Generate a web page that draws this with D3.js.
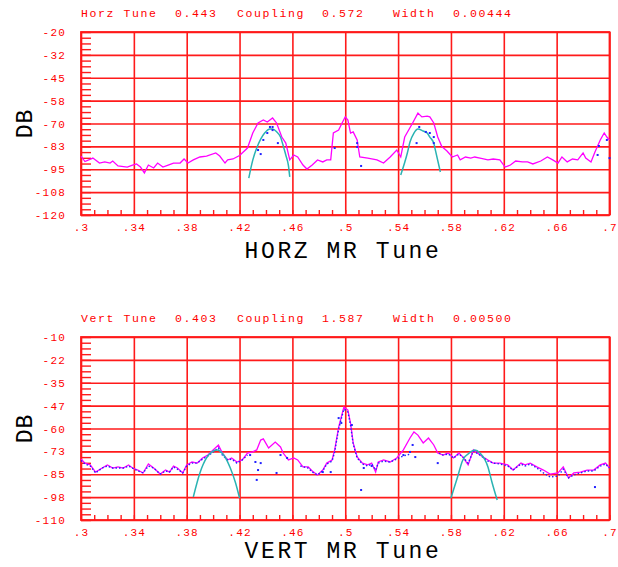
<!DOCTYPE html>
<html>
<head>
<meta charset="utf-8">
<script src="https://cdn.jsdelivr.net/npm/d3@7"></script>
<style>
  body { margin: 0; background: #fff; }
  svg { display: block; }
  .tick text { font-family: "Liberation Mono", monospace; font-size: 11px; letter-spacing: 1.2px; fill: #ff0000; }
</style>
</head>
<body>
<svg id="chart" width="618" height="567"></svg>
<script>
// ---- data ----
var xTicks = [.3, .34, .38, .42, .46, .5, .54, .58, .62, .66, .7];
var xTickLabels = [".3", ".34", ".38", ".42", ".46", ".5", ".54", ".58", ".62", ".66", ".7"];

var horzYTicks = [-20, -32.5, -45, -57.5, -70, -82.5, -95, -107.5, -120];
var horzYLabels = ["-20", "-32", "-45", "-58", "-70", "-83", "-95", "-108", "-120"];
var vertYTicks = [-10, -22.5, -35, -47.5, -60, -72.5, -85, -97.5, -110];
var vertYLabels = ["-10", "-22", "-35", "-47", "-60", "-73", "-85", "-98", "-110"];

var horzHeader = ["Horz Tune", "0.443", "Coupling", "0.572", "Width", "0.00444"];
var vertHeader = ["Vert Tune", "0.403", "Coupling", "1.587", "Width", "0.00500"];

// horizontal scan (magenta trace)
var horzTrace = [
  [.300,-87.8],[.303,-90.8],[.309,-88.9],[.314,-91.6],[.318,-91.0],[.322,-91.6],[.324,-90.5],[.328,-93.2],
  [.335,-93.8],[.339,-92.7],[.342,-92.1],[.345,-93.8],[.348,-97.0],[.351,-92.7],[.355,-94.3],[.358,-91.6],
  [.362,-93.8],[.366,-92.7],[.370,-91.6],[.375,-91.6],[.378,-89.4],[.381,-91.6],[.385,-89.9],[.390,-88.3],
  [.395,-87.8],[.402,-86.1],[.405,-87.8],[.409,-91.6],[.411,-89.9],[.415,-89.4],[.420,-87.5],[.426,-83.4],
  [.430,-75.2],[.434,-69.7],[.438,-68.1],[.441,-69.2],[.445,-67.0],[.448,-69.7],[.452,-77.4],[.455,-80.7],
  [.458,-89.9],[.461,-87.2],[.464,-88.3],[.468,-92.7],[.471,-94.9],[.475,-92.7],[.479,-89.9],[.483,-91.0],
  [.486,-89.9],[.489,-89.9],[.491,-75.2],[.495,-73.6],[.498,-69.2],[.500,-66.4],[.502,-68.1],[.504,-75.2],
  [.506,-74.6],[.509,-79.0],[.511,-88.3],[.517,-88.9],[.524,-89.9],[.529,-91.6],[.534,-88.3],[.539,-84.5],
  [.542,-88.3],[.545,-77.4],[.551,-69.7],[.555,-64.3],[.558,-66.4],[.562,-66.0],[.564,-66.4],[.567,-69.7],
  [.570,-77.4],[.573,-82.5],[.577,-85.0],[.581,-88.3],[.585,-87.2],[.587,-89.9],[.591,-88.3],[.595,-88.9],
  [.598,-88.3],[.602,-88.9],[.608,-89.9],[.612,-89.4],[.617,-89.9],[.621,-93.8],[.625,-92.7],[.629,-90.5],
  [.634,-91.0],[.638,-91.0],[.642,-92.1],[.648,-90.5],[.653,-88.3],[.657,-89.9],[.661,-91.6],[.664,-88.3],
  [.668,-91.0],[.672,-89.4],[.676,-89.9],[.680,-86.1],[.682,-88.9],[.686,-91.0],[.689,-85.6],[.693,-79.0],
  [.696,-75.2],[.698,-77.4],[.700,-79.0]
];
// fitted resonance curves (cyan)
var horzFitLow = [[.427,-99.8],[.430,-90.0],[.433,-83.4],[.436,-78.5],[.439,-75.2],[.443,-73.0],[.445,-73.0],
  [.448,-74.5],[.451,-77.4],[.453,-82.0],[.455,-87.2],[.457,-93.0],[.458,-99.2]];
var horzFitHigh = [[.542,-98.1],[.547,-86.1],[.549,-80.1],[.552,-75.2],[.555,-73.0],[.559,-74.1],[.562,-75.2],
  [.564,-77.4],[.567,-80.7],[.568,-83.9],[.572,-96.5]];
// sampled points (blue)
var horzSamples = [[.434,-84.5],[.436,-86.7],[.438,-79.0],[.441,-75.2],[.443,-71.9],[.445,-71.9],[.445,-73.6],
  [.449,-80.7],[.492,-83.4],[.509,-80.7],[.509,-82.8],[.512,-93.2],[.554,-80.7],[.556,-71.9],[.561,-74.6],
  [.564,-75.2],[.567,-77.4],[.567,-80.7],[.692,-82.3],[.691,-87.2],[.698,-79.0],[.700,-88.9]];

// vertical scan
var vertTrace = [
  [.300,-76.7],[.303,-78.9],[.307,-79.9],[.311,-83.8],[.316,-81.6],[.320,-79.9],[.324,-81.6],[.328,-81.0],
  [.332,-81.6],[.336,-79.9],[.339,-81.6],[.343,-82.7],[.347,-84.3],[.351,-79.4],[.355,-81.6],[.360,-84.9],
  [.364,-82.7],[.367,-83.8],[.370,-80.5],[.373,-81.6],[.377,-84.3],[.380,-79.9],[.384,-78.3],[.388,-78.9],
  [.392,-76.1],[.396,-74.5],[.400,-71.7],[.404,-69.0],[.407,-73.4],[.411,-77.2],[.414,-76.1],[.418,-78.3],
  [.422,-77.2],[.426,-73.4],[.430,-72.8],[.433,-71.7],[.436,-66.3],[.438,-65.7],[.442,-70.7],[.447,-67.4],
  [.451,-70.1],[.453,-73.4],[.457,-77.2],[.461,-76.1],[.464,-77.2],[.468,-81.0],[.472,-81.0],[.475,-83.2],
  [.479,-85.4],[.483,-82.7],[.486,-78.9],[.490,-77.2],[.492,-71.7],[.495,-59.2],[.498,-51.0],[.499,-48.3],
  [.502,-49.9],[.504,-57.0],[.506,-67.9],[.509,-75.6],[.513,-78.9],[.517,-79.9],[.520,-78.9],[.523,-83.8],
  [.525,-78.3],[.529,-77.2],[.534,-78.3],[.539,-76.1],[.544,-71.7],[.549,-65.2],[.552,-61.9],[.555,-63.6],
  [.559,-67.9],[.563,-65.2],[.567,-69.0],[.570,-73.4],[.574,-74.5],[.578,-73.4],[.582,-76.1],[.586,-73.4],
  [.589,-75.6],[.593,-79.9],[.597,-71.7],[.602,-74.5],[.608,-77.2],[.612,-78.9],[.617,-78.9],[.623,-79.9],
  [.627,-82.7],[.633,-78.9],[.636,-79.9],[.640,-78.9],[.645,-81.0],[.650,-82.7],[.655,-84.9],[.661,-84.3],
  [.665,-81.0],[.669,-87.0],[.673,-84.3],[.678,-83.8],[.683,-82.7],[.688,-82.7],[.693,-79.9],[.697,-78.9],
  [.700,-81.6]
];
var vertFitLow = [[.385,-97.4],[.390,-84.3],[.395,-76.1],[.399,-72.8],[.403,-71.7],[.408,-74.5],[.413,-81.6],
  [.417,-89.8],[.420,-98.0]];
var vertFitHigh = [[.580,-98.0],[.585,-86.5],[.589,-77.2],[.595,-72.8],[.598,-71.7],[.602,-73.4],[.608,-81.0],
  [.611,-89.2],[.615,-99.1]];
// blue sampled trace (null = gap)
var vertSampleTrace = [
  [.300,-77.5],[.303,-79.4],[.307,-80.5],[.311,-84.3],[.316,-81.6],[.320,-80.5],[.324,-81.6],[.328,-81.6],
  [.332,-81.6],[.336,-80.5],[.339,-81.6],[.343,-83.2],[.347,-84.3],[.351,-80.5],[.355,-81.6],[.360,-84.9],
  [.364,-83.2],[.367,-83.8],[.370,-81.0],[.373,-82.2],[.377,-84.3],[.380,-80.5],[.384,-78.9],[.388,-78.9],
  [.392,-76.7],[.396,-75.0],[.400,-72.8],[.404,-70.7],[.407,-74.5],[.411,-77.2],[.414,-76.7],[.418,-78.9],
  [.422,-77.2],[.426,-74.5],[.428,null],
  [.466,-80.5],[.472,-81.6],[.475,-83.8],[.479,-85.4],[.483,-83.2],[.486,-79.4],[.490,-77.8],[.492,-72.8],
  [.495,-60.3],[.498,-52.0],[.499,-49.4],[.502,-51.0],[.504,-58.1],[.506,-68.5],[.509,-76.1],[.513,-79.4],
  [.517,-80.5],[.520,-79.4],[.523,-82.7],[.525,-78.9],[.529,-77.8],[.534,-78.3],[.539,-76.7],[.544,-75.0],
  [.549,-74.0],[.550,null],
  [.571,-73.4],[.574,-74.5],[.578,-73.9],[.582,-76.1],[.586,-73.9],[.589,-75.6],[.593,-78.9],[.597,-72.3],
  [.602,-74.5],[.608,-77.8],[.612,-78.9],[.617,-79.4],[.623,-80.5],[.627,-82.7],[.633,-79.4],[.636,-80.5],
  [.640,-79.4],[.645,-81.6],[.650,-84.3],[.655,-86.5],[.661,-86.0],[.665,-82.2],[.669,-87.0],[.673,-85.4],
  [.678,-84.3],[.683,-83.2],[.688,-83.2],[.693,-80.5],[.697,-79.4],[.700,-81.6]
];
var vertSamples = [[.428,-74.5],[.432,-78.3],[.436,-78.9],[.434,-82.7],[.433,-88.1],[.448,-84.3],[.451,-74.5],
  [.456,-76.1],[.483,-83.8],[.489,-83.8],[.495,-54.3],[.497,-57.0],[.505,-58.1],[.512,-93.6],[.514,-81.6],
  [.520,-80.5],[.544,-74.5],[.549,-72.8],[.551,-69.0],[.553,-75.6],[.570,-78.9],[.689,-92.0]];

// ---- drawing ----
var svg = d3.select('#chart');
var left = 81, right = 609.5, plotH = 183;
var red = "#ff1a1a";

function drawPanel(top, titleY, yTicks, yLabels, header, axisTitle, trace, fits, sampleTrace, samples) {
    var g = svg.append("g").attr("transform", "translate(0," + top + ")");
    var x = d3.scaleLinear().domain([.3, .7]).range([left, right]);
    var y = d3.scaleLinear().domain([yTicks[yTicks.length - 1], yTicks[0]]).range([plotH, 0]);
    var step = (yTicks[0] - yTicks[1]) / 4;

    // header line
    var headerX = [81, 175, 237, 322, 393, 453];
    g.selectAll("text.header")
        .data(header)
        .enter()
        .append("text")
        .attr("class", "header")
        .attr("x", function(d, i) { return headerX[i]; })
        .attr("y", -15)
        .attr("fill", "#ff0000")
        .style("font-family", "Liberation Mono, monospace")
        .style("font-size", "11.5px")
        .style("letter-spacing", "1.6px")
        .text(function(d) { return d; });

    // minor ticks
    var minorY = d3.range(0, 33).map(function(i) { return yTicks[yTicks.length - 1] + i * step; });
    g.append("g")
        .attr("transform", "translate(" + left + ",0)")
        .call(d3.axisLeft(y).tickValues(minorY).tickSize(-10).tickFormat(""))
        .call(function(a) { a.select(".domain").remove(); a.selectAll("line").attr("stroke", red).attr("stroke-width", 1.4); });
    var minorX = d3.range(0, 41).map(function(i) { return .3 + i * .01; });
    g.append("g")
        .attr("transform", "translate(0," + plotH + ")")
        .call(d3.axisBottom(x).tickValues(minorX).tickSize(-5).tickFormat(""))
        .call(function(a) { a.select(".domain").remove(); a.selectAll("line").attr("stroke", red).attr("stroke-width", 1.4); });

    // grid with labels
    g.append("g")
        .attr("transform", "translate(" + left + ",0)")
        .call(d3.axisLeft(y).tickValues(yTicks).tickSize(-(right - left)).tickPadding(15)
            .tickFormat(function(d, i) { return yLabels[i]; }))
        .call(function(a) { a.select(".domain").remove(); a.selectAll("line").attr("stroke", red).attr("stroke-width", 1.6); });
    g.append("g")
        .attr("transform", "translate(0," + plotH + ")")
        .call(d3.axisBottom(x).tickValues(xTicks).tickSize(-plotH).tickPadding(8)
            .tickFormat(function(d, i) { return xTickLabels[i]; }))
        .call(function(a) { a.select(".domain").remove(); a.selectAll("line").attr("stroke", red).attr("stroke-width", 1.6); });

    g.append("rect")
        .attr("x", left).attr("y", 0)
        .attr("width", right - left).attr("height", plotH)
        .attr("fill", "none").attr("stroke", red).attr("stroke-width", 1.8);

    // axis titles
    g.append("text")
        .attr("x", 343).attr("y", titleY)
        .attr("text-anchor", "middle")
        .style("font-family", "Liberation Mono, monospace")
        .style("font-size", "23px")
        .style("letter-spacing", "2.6px")
        .text(axisTitle);
    g.append("text")
        .attr("transform", "translate(32," + (plotH / 2) + ") rotate(-90)")
        .attr("text-anchor", "middle")
        .style("font-family", "Liberation Mono, monospace")
        .style("font-size", "23px")
        .style("letter-spacing", "1px")
        .text("DB");

    var line = d3.line()
        .defined(function(d) { return d[1] !== null; })
        .x(function(d) { return x(d[0]); })
        .y(function(d) { return y(d[1]); });

    g.append("path")
        .datum(trace)
        .attr("d", line)
        .attr("fill", "none")
        .attr("stroke", "#ff00ff")
        .attr("stroke-width", 1.3);

    if (sampleTrace) {
        g.append("path")
            .datum(sampleTrace)
            .attr("d", line)
            .attr("fill", "none")
            .attr("stroke", "#2222ff")
            .attr("stroke-width", 1.4)
            .attr("stroke-dasharray", "1.5 2");
    }

    var fitLine = d3.line()
        .curve(d3.curveMonotoneX)
        .x(function(d) { return x(d[0]); })
        .y(function(d) { return y(d[1]); });
    fits.forEach(function(f) {
        g.append("path")
            .datum(f)
            .attr("d", fitLine)
            .attr("fill", "none")
            .attr("stroke", "#2ab3b3")
            .attr("stroke-width", 1.5);
    });

    g.selectAll("rect.sample")
        .data(samples)
        .enter()
        .append("rect")
        .attr("class", "sample")
        .attr("x", function(d) { return x(d[0]) - 1; })
        .attr("y", function(d) { return y(d[1]) - 1; })
        .attr("width", 2)
        .attr("height", 2)
        .attr("fill", "#2222ff");
}

drawPanel(32, 226, horzYTicks, horzYLabels, horzHeader, "HORZ MR Tune", horzTrace, [horzFitLow, horzFitHigh], null, horzSamples);
drawPanel(337, 221, vertYTicks, vertYLabels, vertHeader, "VERT MR Tune", vertTrace, [vertFitLow, vertFitHigh], vertSampleTrace, vertSamples);
</script>
</body>
</html>
